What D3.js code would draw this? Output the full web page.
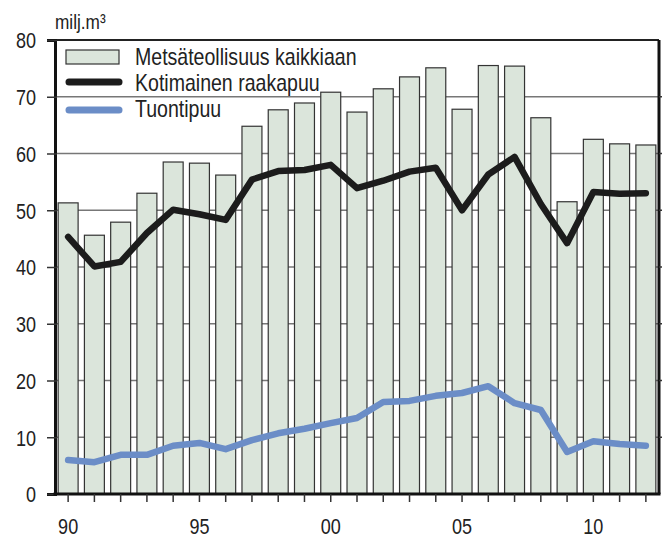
<!DOCTYPE html>
<meta charset="utf-8">
<title>Metsäteollisuus</title>
<style>
body { margin: 0; background: #fff; }
svg { display: block; }
text { font-family: "Liberation Sans", Arial, sans-serif; fill: #222; }
.grid line { stroke: #777; stroke-width: 1.5; }
.bar { fill: #dbe5db; stroke: #333; stroke-width: 1.2; }
</style>
<body>
<div id="chart"></div>
</body>
<script src="https://cdn.jsdelivr.net/npm/d3@7"></script>
<script>

var years = d3.range(1990, 2013)
var yearLabels = {1990: '90', 1995: '95', 2000: '00', 2005: '05', 2010: '10'}
var yTicks = [0, 10, 20, 30, 40, 50, 60, 70, 80]

// Metsäteollisuus kaikkiaan
var totalWood = [51.3, 45.6, 47.9, 53.0, 58.5, 58.3, 56.2, 64.8, 67.7, 68.9, 70.8, 67.3,
                 71.4, 73.5, 75.1, 67.8, 75.5, 75.4, 66.3, 51.5, 62.5, 61.7, 61.5]
// Kotimainen raakapuu
var domesticWood = [45.3, 40.1, 40.9, 46.0, 50.1, 49.3, 48.3, 55.4, 56.9, 57.1, 58.0, 53.9,
                    55.2, 56.8, 57.5, 50.0, 56.3, 59.4, 51.1, 44.2, 53.2, 52.9, 53.0]
// Tuontipuu
var importWood = [6.0, 5.6, 6.9, 6.9, 8.5, 9.0, 7.9, 9.5, 10.7, 11.5, 12.5, 13.4,
                  16.2, 16.4, 17.3, 17.8, 19.0, 16.0, 14.8, 7.4, 9.3, 8.8, 8.5]

var legendItems = ['Metsäteollisuus kaikkiaan', 'Kotimainen raakapuu', 'Tuontipuu']

var W = 669, H = 544,
    mLeft = 55, mRight = 659, mTop = 40, mBottom = 494,
    narrow = 0.82

var svg = d3.select('#chart').append('svg').attr('width', W).attr('height', H)

var x = d3.scaleBand().domain(years).range([mLeft, mRight]).paddingInner(0.24).paddingOuter(0.12)
var y = d3.scaleLinear().domain([0, 80]).range([mBottom, mTop])
var cx = function(d){ return x(d) + x.bandwidth()/2 }
var yv = function(d){ return y(d) }

// gridlines
svg.append('g').attr('class', 'grid')
  .selectAll('line').data(yTicks.slice(1, -1)).join('line')
  .attr('x1', mLeft).attr('x2', mRight)
  .attr('y1', yv).attr('y2', yv)

// bars
svg.append('g').selectAll('rect').data(years).join('rect')
  .attr('class', 'bar')
  .attr('x', function(d){ return x(d) })
  .attr('width', x.bandwidth())
  .attr('y', function(d, i){ return y(totalWood[i]) })
  .attr('height', function(d, i){ return y(0) - y(totalWood[i]) })

// lines
var line = d3.line().x(function(d, i){ return cx(years[i]) }).y(function(d){ return y(d) })

svg.append('path').datum(domesticWood)
  .attr('d', line).attr('fill', 'none')
  .attr('stroke', '#1c1c1c').attr('stroke-width', 6.5)
  .attr('stroke-linejoin', 'round').attr('stroke-linecap', 'round')

svg.append('path').datum(importWood)
  .attr('d', line).attr('fill', 'none')
  .attr('stroke', '#6b8dc7').attr('stroke-width', 6.5)
  .attr('stroke-linejoin', 'round').attr('stroke-linecap', 'round')

// frame
svg.append('line').attr('x1', mLeft).attr('x2', mRight).attr('y1', mTop).attr('y2', mTop)
  .attr('stroke', '#222').attr('stroke-width', 2)
svg.append('line').attr('x1', mRight).attr('x2', mRight).attr('y1', mTop).attr('y2', mBottom)
  .attr('stroke', '#111').attr('stroke-width', 3)

// right side small ticks
svg.append('g').selectAll('line').data(yTicks.slice(1, -1)).join('line')
  .attr('x1', mRight).attr('x2', mRight + 3).attr('y1', yv).attr('y2', yv)
  .attr('stroke', '#333').attr('stroke-width', 1.5)

// y axis
var yAxis = svg.append('g').attr('transform', 'translate(' + mLeft + ',0)')
  .call(d3.axisLeft(y).tickValues(yTicks).tickSize(8))
yAxis.select('.domain').attr('stroke', '#111').attr('stroke-width', 3)
yAxis.selectAll('.tick line').attr('stroke', '#333').attr('stroke-width', 1.5).attr('x2', 2).attr('x1', -8)
yAxis.selectAll('.tick text')
  .attr('font-size', 22).attr('fill', '#222')
  .attr('x', -19 / narrow).attr('dy', '0.36em')
  .attr('transform', 'scale(' + narrow + ',1)')

// x axis
var xAxis = svg.append('g').attr('transform', 'translate(0,' + mBottom + ')')
  .call(d3.axisBottom(x).tickSize(8)
    .tickFormat(function(d){ return yearLabels[d] || '' }))
xAxis.select('.domain').attr('stroke', '#111').attr('stroke-width', 3)
  .attr('d', 'M' + (mLeft - 1.5) + ',0H' + (mRight + 1.5))
xAxis.selectAll('.tick line').attr('stroke', '#333').attr('stroke-width', 1.5)
xAxis.selectAll('.tick text')
  .attr('font-size', 22).attr('fill', '#222')
  .attr('y', 40).attr('dy', 0)
  .attr('transform', 'scale(' + narrow + ',1)')

// unit label
svg.append('text').attr('transform', 'translate(55,29) scale(' + narrow + ',1)')
  .attr('font-size', 21)
  .text('milj.m³')

// legend
var lg = svg.append('g')
lg.append('rect').attr('x', 66).attr('y', 50).attr('width', 53).attr('height', 14)
  .attr('fill', '#dbe5db').attr('stroke', '#333').attr('stroke-width', 1.2)
lg.append('line').attr('x1', 69).attr('x2', 119).attr('y1', 82).attr('y2', 82)
  .attr('stroke', '#1c1c1c').attr('stroke-width', 7).attr('stroke-linecap', 'round')
lg.append('line').attr('x1', 69).attr('x2', 119).attr('y1', 110).attr('y2', 110)
  .attr('stroke', '#6b8dc7').attr('stroke-width', 7).attr('stroke-linecap', 'round')
lg.selectAll('text').data(legendItems).join('text')
  .attr('transform', function(d, i){ return 'translate(135,' + (65 + i*26) + ') scale(0.85,1)' })
  .attr('font-size', 23)
  .text(function(d){ return d })

</script>
